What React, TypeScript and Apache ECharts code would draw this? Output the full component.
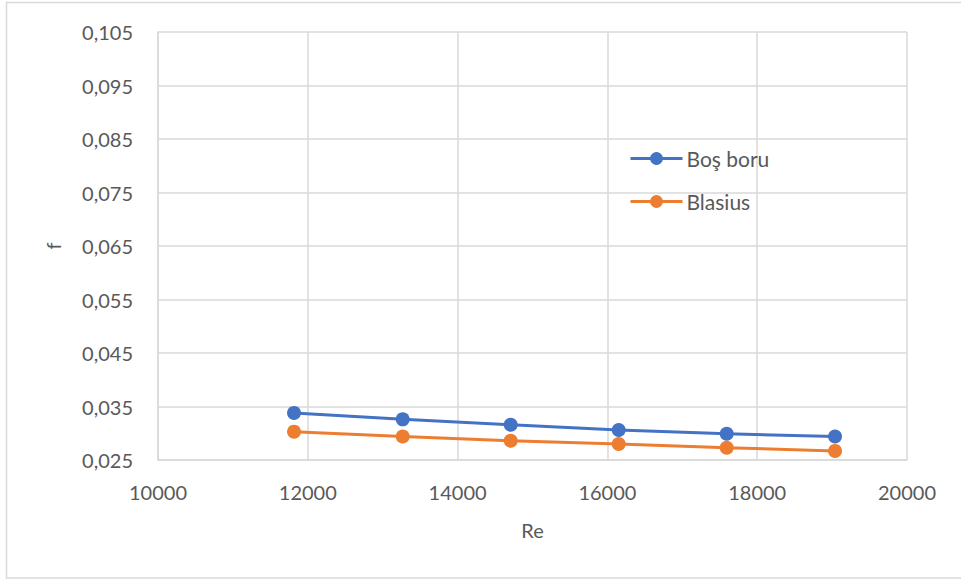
import React, { useEffect, useRef } from "react";
import * as echarts from "echarts";

const reValues = [11816, 13267, 14709, 16151, 17593, 19039];
const bosBoru = [0.0338, 0.0326, 0.0316, 0.0306, 0.0299, 0.0294];
const blasius = [0.0303, 0.0294, 0.0286, 0.028, 0.0273, 0.0267];
const seriesNames = ["Boş boru", "Blasius"];
const colors = ["#4472C4", "#ED7D31"];
const yBase = 0.025; // lowest tick of the f axis
const yScale = 1000; // axis works in thousandths above the base

const FONT = "Lato, 'Open Sans', sans-serif";

function toAxis(v: number) {
  return Math.round((v - yBase) * yScale * 1000) / 1000;
}

export default function App() {
  const ref = useRef<HTMLDivElement>(null);
  useEffect(() => {
    if (!ref.current) return;
    const chart = echarts.init(ref.current, undefined, { renderer: "svg" });
    const mk = (vals: number[]) => reValues.map((x, i) => [x, toAxis(vals[i])]);
    chart.setOption({
      animation: false,
      backgroundColor: "#ffffff",
      textStyle: { fontFamily: FONT },
      graphic: [
        {
          type: "rect",
          shape: { x: 6.5, y: 2.5, width: 960, height: 575.5 },
          style: { fill: "none", stroke: "#d9d9d9", lineWidth: 1.5 },
          silent: true,
        },
      ],
      grid: { left: 158, right: 54, top: 32, bottom: 121, containLabel: false },
      legend: {
        orient: "vertical",
        left: 624,
        top: 143,
        itemWidth: 52,
        itemHeight: 16,
        itemGap: 22,
        lineStyle: { width: 3 },
        textStyle: {
          color: "#595959",
          fontSize: 21,
          fontFamily: FONT,
          padding: [0, 0, 0, -1],
        },
        data: seriesNames,
      },
      xAxis: {
        type: "value",
        min: 10000,
        max: 20000,
        interval: 2000,
        name: "Re",
        nameLocation: "middle",
        nameGap: 60,
        nameTextStyle: { color: "#595959", fontSize: 20, fontFamily: FONT },
        axisLine: { show: true, lineStyle: { color: "#d9d9d9", width: 1.5 } },
        axisTick: { show: false },
        axisLabel: {
          color: "#595959",
          fontSize: 20,
          margin: 22,
          fontFamily: FONT,
          formatter: (v: number) => String(v),
        },
        splitLine: { show: true, lineStyle: { color: "#d9d9d9", width: 1.5 } },
      },
      yAxis: {
        type: "value",
        min: 0,
        max: 80,
        interval: 10,
        name: "f",
        nameLocation: "middle",
        nameGap: 95,
        nameRotate: 90,
        nameTextStyle: { color: "#595959", fontSize: 20, fontFamily: FONT },
        axisLine: { show: true, lineStyle: { color: "#d9d9d9", width: 1.5 } },
        axisTick: { show: false },
        axisLabel: {
          color: "#595959",
          fontSize: 20,
          margin: 25,
          fontFamily: FONT,
          formatter: (v: number) => (v / yScale + yBase).toFixed(3).replace(".", ","),
        },
        splitLine: { show: true, lineStyle: { color: "#d9d9d9", width: 1.5 } },
      },
      series: [
        {
          name: seriesNames[0],
          type: "line",
          data: mk(bosBoru),
          symbol: "circle",
          symbolSize: 14,
          lineStyle: { color: colors[0], width: 3 },
          itemStyle: { color: colors[0] },
        },
        {
          name: seriesNames[1],
          type: "line",
          data: mk(blasius),
          symbol: "circle",
          symbolSize: 14,
          lineStyle: { color: colors[1], width: 3 },
          itemStyle: { color: colors[1] },
        },
      ],
    });
    return () => chart.dispose();
  }, []);
  return (
    <div
      ref={ref}
      style={{ position: "absolute", left: 0, top: 0, width: 961, height: 581 }}
    />
  );
}
